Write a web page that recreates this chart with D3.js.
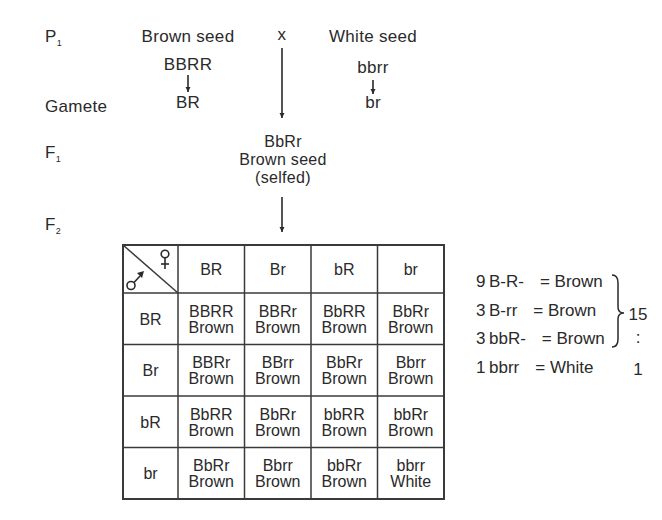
<!DOCTYPE html>
<html>
<head>
<meta charset="utf-8">
<script src="https://cdn.jsdelivr.net/npm/d3@7"></script>
<style>
  html, body { margin: 0; padding: 0; background: #ffffff; }
  svg { display: block; }
  text { font-family: "Liberation Sans", Arial, Helvetica, sans-serif; fill: #2a2a2a; }
</style>
</head>
<body>
<svg id="chart" width="662" height="520"></svg>
<script>
// ---------- data ----------
const generationLabels = ["P", "Gamete", "F", "F"];
const generationSubs = ["1", "", "1", "2"];
const parentPhenotypes = ["Brown seed", "White seed"];
const parentGenotypes = ["BBRR", "bbrr"];
const parentGametes = ["BR", "br"];
const crossSymbol = "x";
const f1Lines = ["BbRr", "Brown seed", "(selfed)"];
const femaleGametes = ["BR", "Br", "bR", "br"];
const maleGametes = ["BR", "Br", "bR", "br"];
const genotypes = [
  ["BBRR", "BBRr", "BbRR", "BbRr"],
  ["BBRr", "BBrr", "BbRr", "Bbrr"],
  ["BbRR", "BbRr", "bbRR", "bbRr"],
  ["BbRr", "Bbrr", "bbRr", "bbrr"]
];
const phenotypes = [
  ["Brown", "Brown", "Brown", "Brown"],
  ["Brown", "Brown", "Brown", "Brown"],
  ["Brown", "Brown", "Brown", "Brown"],
  ["Brown", "Brown", "Brown", "White"]
];
const ratioCounts = ["9", "3", "3", "1"];
const ratioGenotypes = ["B-R-", "B-rr", "bbR-", "bbrr"];
const ratioPhenotypes = ["Brown", "Brown", "Brown", "White"];
const ratioSummary = ["15", ":", "1"];

// ---------- drawing ----------
(function () {
const svg = d3.select("#chart");
const ink = "#2a2a2a";
const lineColor = "#3a3a3a";

svg.append("defs").append("marker")
  .attr("id", "head").attr("viewBox", "0 0 10 10")
  .attr("refX", 10).attr("refY", 5)
  .attr("markerWidth", 5).attr("markerHeight", 6)
  .attr("markerUnits", "userSpaceOnUse")
  .attr("orient", "auto")
  .append("path").attr("d", "M0,0 L10,5 L0,10 Z").attr("fill", ink);

function arrow(x, y1, y2) {
  svg.append("line")
    .attr("x1", x).attr("x2", x).attr("y1", y1).attr("y2", y2)
    .attr("stroke", ink).attr("stroke-width", 1.6)
    .attr("marker-end", "url(#head)");
}

// generation labels
const genY = [42, 112, 158, 230];
generationLabels.forEach((lab, i) => {
  const t = svg.append("text").attr("x", 45).attr("y", genY[i])
    .attr("font-size", 17).attr("letter-spacing", 0.3);
  t.append("tspan").text(lab);
  if (generationSubs[i]) {
    t.append("tspan").attr("font-size", 9).attr("dy", 4).attr("dx", 0).text(generationSubs[i]);
  }
});

// parents
const parentX = d3.scalePoint().domain([0, 1]).range([188, 373]);
const topText = (x, y, s, fs) => svg.append("text").attr("x", x).attr("y", y)
  .attr("text-anchor", "middle").attr("font-size", fs || 17).attr("letter-spacing", 0.3).text(s);

parentPhenotypes.forEach((s, i) => topText(parentX(i), 42, s));
parentGenotypes.forEach((s, i) => topText(parentX(i), i === 0 ? 70 : 73, s));
parentGametes.forEach((s, i) => topText(parentX(i), 108, s));
arrow(parentX(0), 75, 92);
arrow(parentX(1), 80, 94);

topText(282, 40, crossSymbol);
arrow(282, 48, 118);

// F1
const f1Y = [147, 165, 183];
f1Lines.forEach((s, i) => topText(283, f1Y[i], s, 16));
arrow(282, 197, 232);

// Punnett square
const gLeft = 123, gTop = 245, headW = 178, headH = 293, gRight = 444, gBottom = 499;
const x = d3.scaleBand().domain(femaleGametes).range([headW, gRight]);
const y = d3.scaleBand().domain(maleGametes).range([headH, gBottom]);

const grid = svg.append("g").attr("stroke", lineColor).attr("fill", "none");
grid.append("rect").attr("x", gLeft).attr("y", gTop)
  .attr("width", gRight - gLeft).attr("height", gBottom - gTop).attr("stroke-width", 2);
femaleGametes.forEach(g => grid.append("line")
  .attr("x1", x(g)).attr("x2", x(g)).attr("y1", gTop).attr("y2", gBottom).attr("stroke-width", 1.5));
maleGametes.forEach(g => grid.append("line")
  .attr("x1", gLeft).attr("x2", gRight).attr("y1", y(g)).attr("y2", y(g)).attr("stroke-width", 1.5));
grid.append("line").attr("x1", gLeft).attr("y1", gTop).attr("x2", headW).attr("y2", headH)
  .attr("stroke-width", 1.5);

// sex symbols drawn as marks (female: circle + cross; male: circle + arrow)
const sym = svg.append("g").attr("stroke", ink).attr("stroke-width", 1.6).attr("fill", "none");
sym.append("circle").attr("cx", 165).attr("cy", 254).attr("r", 3.8);
sym.append("line").attr("x1", 165).attr("x2", 165).attr("y1", 258).attr("y2", 269);
sym.append("line").attr("x1", 161).attr("x2", 169).attr("y1", 264).attr("y2", 264);
sym.append("circle").attr("cx", 131).attr("cy", 285.5).attr("r", 4);
sym.append("line").attr("x1", 134).attr("y1", 282.5).attr("x2", 140).attr("y2", 276);
svg.append("path").attr("d", "M137,273 L144,271 L142,278 Z").attr("fill", ink);

// headers
femaleGametes.forEach(g => svg.append("text")
  .attr("x", x(g) + x.bandwidth() / 2).attr("y", (gTop + headH) / 2 + 6)
  .attr("text-anchor", "middle").attr("font-size", 16).text(g));
maleGametes.forEach(g => svg.append("text")
  .attr("x", (gLeft + headW) / 2).attr("y", y(g) + y.bandwidth() / 2 + 6)
  .attr("text-anchor", "middle").attr("font-size", 16).text(g));

// cells
maleGametes.forEach((mg, r) => {
  femaleGametes.forEach((fg, c) => {
    const cx = x(fg) + x.bandwidth() / 2;
    const cy = y(mg) + y.bandwidth() / 2;
    svg.append("text").attr("x", cx).attr("y", cy - 2).attr("text-anchor", "middle")
      .attr("font-size", 16).text(genotypes[r][c]);
    svg.append("text").attr("x", cx).attr("y", cy + 14).attr("text-anchor", "middle")
      .attr("font-size", 16).text(phenotypes[r][c]);
  });
});

// ratio summary
const ry = d3.scalePoint().domain(d3.range(ratioCounts.length)).range([287, 373]);
ratioCounts.forEach((n, i) => {
  svg.append("text").attr("x", 476).attr("y", ry(i)).attr("font-size", 17).text(n);
  const t = svg.append("text").attr("x", 489).attr("y", ry(i)).attr("font-size", 17);
  t.append("tspan").text(ratioGenotypes[i]);
  t.append("tspan").attr("dx", 16).text("= " + ratioPhenotypes[i]);
});

// brace
const bx0 = 612, bx1 = 624, bTop = 275, bMid = 313, bBot = 347, bm = bx0 + 6;
const bp = d3.path();
bp.moveTo(bx0, bTop);
bp.quadraticCurveTo(bm, bTop, bm, bTop + 8);
bp.lineTo(bm, bMid - 6);
bp.quadraticCurveTo(bm, bMid, bx1, bMid);
bp.quadraticCurveTo(bm, bMid, bm, bMid + 6);
bp.lineTo(bm, bBot - 8);
bp.quadraticCurveTo(bm, bBot, bx0, bBot);
svg.append("path").attr("d", bp.toString()).attr("fill", "none")
  .attr("stroke", ink).attr("stroke-width", 1.5);

svg.append("text").attr("x", 638).attr("y", 320).attr("text-anchor", "middle")
  .attr("font-size", 17).text(ratioSummary[0]);
svg.append("text").attr("x", 638).attr("y", 343).attr("text-anchor", "middle")
  .attr("font-size", 17).text(ratioSummary[1]);
svg.append("text").attr("x", 638).attr("y", 375).attr("text-anchor", "middle")
  .attr("font-size", 17).text(ratioSummary[2]);
})();
</script>
</body>
</html>
